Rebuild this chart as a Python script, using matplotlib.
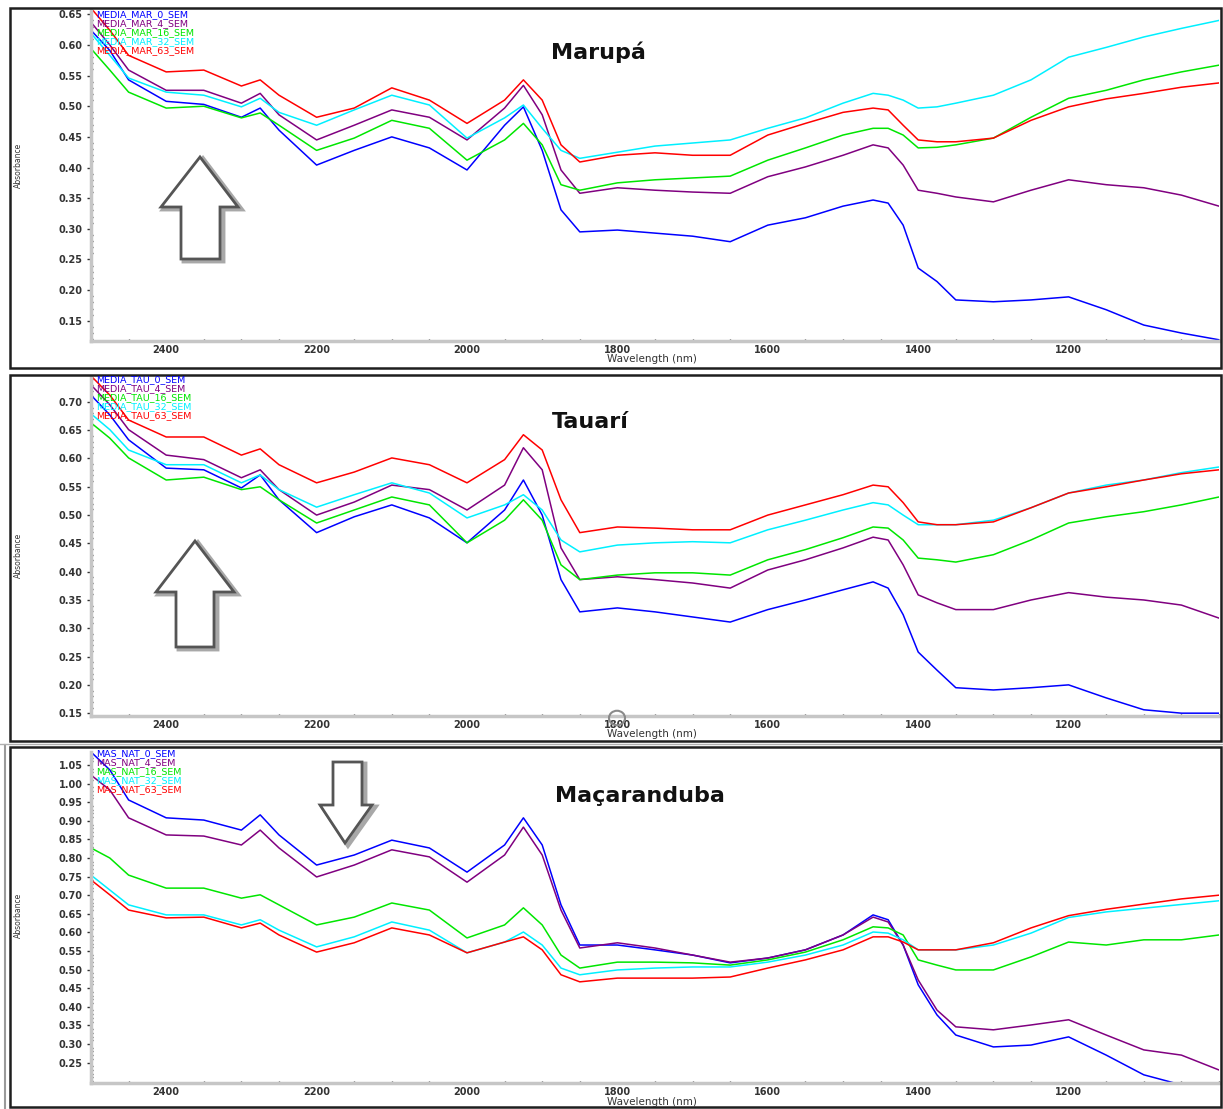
import matplotlib
matplotlib.use('Agg')
import matplotlib.pyplot as plt
from matplotlib.patches import Polygon, Rectangle, Circle
from matplotlib.ticker import MultipleLocator

W, H = 1223, 1109

# wavelength grid (nm) used for every curve
wavelength = [2500, 2475, 2450, 2400, 2350, 2300, 2275, 2250, 2200, 2150, 2100, 2050, 2000,
              1950, 1925, 1900, 1875, 1850, 1800, 1750, 1700, 1650, 1600, 1550, 1500, 1460,
              1440, 1420, 1400, 1375, 1350, 1300, 1250, 1200, 1150, 1100, 1050, 1000]

# Marupá
mar_labels = ['MEDIA_MAR_0_SEM', 'MEDIA_MAR_4_SEM', 'MEDIA_MAR_16_SEM', 'MEDIA_MAR_32_SEM', 'MEDIA_MAR_63_SEM']
mar_0 = [0.624, 0.591, 0.543, 0.508, 0.503, 0.482, 0.497, 0.461, 0.404, 0.428, 0.450, 0.432, 0.396,
         0.469, 0.499, 0.428, 0.331, 0.295, 0.298, 0.293, 0.288, 0.279, 0.306, 0.318, 0.337, 0.347,
         0.342, 0.306, 0.236, 0.214, 0.184, 0.181, 0.184, 0.189, 0.168, 0.143, 0.130, 0.119]
mar_4 = [0.637, 0.600, 0.559, 0.526, 0.526, 0.505, 0.521, 0.486, 0.445, 0.469, 0.494, 0.482, 0.445,
         0.497, 0.534, 0.486, 0.396, 0.358, 0.367, 0.363, 0.360, 0.358, 0.385, 0.401, 0.420, 0.437,
         0.432, 0.404, 0.363, 0.358, 0.352, 0.344, 0.363, 0.380, 0.372, 0.367, 0.355, 0.337]
mar_16 = [0.594, 0.559, 0.523, 0.497, 0.500, 0.481, 0.489, 0.469, 0.428, 0.448, 0.477, 0.464, 0.412,
          0.445, 0.472, 0.437, 0.372, 0.363, 0.375, 0.380, 0.383, 0.386, 0.412, 0.432, 0.453, 0.464,
          0.464, 0.453, 0.432, 0.433, 0.437, 0.448, 0.482, 0.513, 0.526, 0.543, 0.556, 0.567]
mar_32 = [0.619, 0.583, 0.546, 0.523, 0.518, 0.499, 0.513, 0.490, 0.469, 0.494, 0.518, 0.502, 0.448,
          0.481, 0.502, 0.464, 0.428, 0.415, 0.425, 0.435, 0.440, 0.445, 0.464, 0.481, 0.505, 0.521,
          0.518, 0.510, 0.497, 0.499, 0.505, 0.518, 0.543, 0.580, 0.596, 0.613, 0.627, 0.640]
mar_63 = [0.660, 0.624, 0.583, 0.556, 0.559, 0.533, 0.543, 0.518, 0.482, 0.497, 0.530, 0.510, 0.472,
          0.510, 0.543, 0.510, 0.437, 0.409, 0.420, 0.424, 0.420, 0.420, 0.453, 0.472, 0.490, 0.497,
          0.494, 0.469, 0.445, 0.442, 0.442, 0.448, 0.477, 0.499, 0.512, 0.521, 0.531, 0.538]

# Tauarí
tau_labels = ['MEDIA_TAU_0_SEM', 'MEDIA_TAU_4_SEM', 'MEDIA_TAU_16_SEM', 'MEDIA_TAU_32_SEM', 'MEDIA_TAU_63_SEM']
tau_0 = [0.712, 0.677, 0.633, 0.583, 0.580, 0.548, 0.571, 0.527, 0.469, 0.497, 0.518, 0.495, 0.451,
         0.509, 0.562, 0.500, 0.386, 0.329, 0.336, 0.329, 0.320, 0.311, 0.333, 0.350, 0.368, 0.382,
         0.371, 0.324, 0.258, 0.226, 0.195, 0.191, 0.195, 0.200, 0.177, 0.156, 0.150, 0.150]
tau_4 = [0.730, 0.695, 0.651, 0.606, 0.598, 0.566, 0.580, 0.545, 0.500, 0.523, 0.553, 0.545, 0.509,
         0.553, 0.619, 0.580, 0.442, 0.386, 0.391, 0.386, 0.380, 0.371, 0.403, 0.421, 0.442, 0.461,
         0.456, 0.412, 0.359, 0.345, 0.333, 0.333, 0.350, 0.363, 0.355, 0.350, 0.341, 0.318]
tau_16 = [0.663, 0.636, 0.601, 0.562, 0.567, 0.545, 0.550, 0.527, 0.486, 0.509, 0.532, 0.518, 0.451,
          0.491, 0.527, 0.491, 0.412, 0.386, 0.394, 0.398, 0.398, 0.394, 0.421, 0.439, 0.460, 0.479,
          0.477, 0.456, 0.424, 0.421, 0.417, 0.430, 0.456, 0.486, 0.497, 0.506, 0.518, 0.532]
tau_32 = [0.679, 0.651, 0.615, 0.589, 0.589, 0.557, 0.571, 0.545, 0.514, 0.536, 0.557, 0.539, 0.495,
          0.518, 0.536, 0.509, 0.456, 0.435, 0.447, 0.451, 0.453, 0.451, 0.474, 0.491, 0.509, 0.522,
          0.518, 0.500, 0.483, 0.483, 0.483, 0.491, 0.513, 0.539, 0.553, 0.562, 0.575, 0.585]
tau_63 = [0.746, 0.712, 0.668, 0.638, 0.638, 0.606, 0.617, 0.589, 0.557, 0.576, 0.601, 0.589, 0.557,
          0.598, 0.642, 0.615, 0.527, 0.469, 0.479, 0.477, 0.474, 0.474, 0.500, 0.518, 0.536, 0.553,
          0.550, 0.522, 0.488, 0.483, 0.483, 0.488, 0.513, 0.539, 0.550, 0.562, 0.573, 0.580]

# Maçaranduba
mac_labels = ['MAS_NAT_0_SEM', 'MAS_NAT_4_SEM', 'MAS_NAT_16_SEM', 'MAS_NAT_32_SEM', 'MAS_NAT_63_SEM']
mac_0 = [1.085, 1.037, 0.956, 0.908, 0.902, 0.875, 0.916, 0.862, 0.781, 0.808, 0.848, 0.827, 0.762,
         0.835, 0.908, 0.835, 0.674, 0.566, 0.566, 0.553, 0.539, 0.518, 0.531, 0.553, 0.593, 0.647,
         0.634, 0.566, 0.459, 0.378, 0.324, 0.292, 0.297, 0.319, 0.270, 0.217, 0.190, 0.171]
mac_4 = [1.023, 0.983, 0.908, 0.862, 0.859, 0.835, 0.875, 0.827, 0.749, 0.781, 0.822, 0.803, 0.735,
         0.808, 0.883, 0.808, 0.660, 0.558, 0.572, 0.558, 0.539, 0.520, 0.531, 0.553, 0.593, 0.641,
         0.628, 0.566, 0.472, 0.391, 0.346, 0.338, 0.351, 0.365, 0.324, 0.284, 0.270, 0.230]
mac_16 = [0.827, 0.800, 0.754, 0.719, 0.719, 0.692, 0.701, 0.674, 0.620, 0.641, 0.679, 0.660, 0.585,
          0.620, 0.666, 0.620, 0.539, 0.504, 0.520, 0.520, 0.518, 0.512, 0.526, 0.547, 0.580, 0.615,
          0.612, 0.593, 0.526, 0.512, 0.499, 0.499, 0.534, 0.574, 0.566, 0.580, 0.580, 0.593]
mac_32 = [0.754, 0.714, 0.674, 0.647, 0.647, 0.620, 0.634, 0.606, 0.561, 0.588, 0.628, 0.606, 0.545,
          0.574, 0.601, 0.566, 0.504, 0.486, 0.499, 0.504, 0.507, 0.507, 0.520, 0.539, 0.566, 0.601,
          0.598, 0.580, 0.553, 0.553, 0.553, 0.566, 0.598, 0.640, 0.655, 0.665, 0.675, 0.685]
mac_63 = [0.741, 0.701, 0.660, 0.639, 0.641, 0.612, 0.625, 0.593, 0.547, 0.572, 0.612, 0.593, 0.545,
          0.574, 0.588, 0.553, 0.486, 0.467, 0.477, 0.477, 0.477, 0.480, 0.504, 0.526, 0.553, 0.588,
          0.588, 0.574, 0.553, 0.553, 0.553, 0.572, 0.612, 0.645, 0.662, 0.676, 0.690, 0.700]

colors = ['#0000ff', '#800080', '#00e600', '#00f0ff', '#ff0000']


def fx(px):
    return px / W


def fy(py):
    return 1 - py / H


fig = plt.figure(figsize=(W / 100, H / 100), dpi=100)


def panel(top, bottom, ylim, yticks, series, labels, title, title_xy, frame, ylab_y, xlab_y, leg_y0):
    # outer frame of the panel
    fig.add_artist(Rectangle((fx(frame[0]), fy(frame[3])), fx(frame[2]) - fx(frame[0]),
                             fy(frame[1]) - fy(frame[3]), transform=fig.transFigure,
                             fill=False, edgecolor='#1e1e1e', lw=1.8))
    ax = fig.add_axes([fx(91), fy(bottom), fx(1219) - fx(91), fy(top) - fy(bottom)])
    for vals, c in zip(series, colors):
        ax.plot(wavelength, vals, color=c, lw=1.1, solid_joinstyle='round')
    ax.set_xlim(2500, 1000)
    ax.set_ylim(*ylim)
    ax.set_yticks(yticks)
    ax.set_yticklabels([f'{t:.2f}' for t in yticks])
    ax.set_xticks([2400, 2200, 2000, 1800, 1600, 1400, 1200])
    ax.xaxis.set_minor_locator(MultipleLocator(50))
    ax.yaxis.set_minor_locator(MultipleLocator(0.01))
    for s in ['top', 'right']:
        ax.spines[s].set_visible(False)
    for s in ['left', 'bottom']:
        ax.spines[s].set_color('#c6c6c6')
        ax.spines[s].set_linewidth(2.5)
    ax.tick_params(axis='y', which='major', direction='out', length=3, width=1,
                   color='#333333', labelsize=7, labelcolor='#333333', pad=3)
    ax.tick_params(axis='y', which='minor', direction='in', length=1.5, width=1, color='#333333')
    ax.tick_params(axis='x', which='major', direction='in', length=0, labelsize=7,
                   labelcolor='#333333', pad=3)
    ax.tick_params(axis='x', which='minor', direction='in', length=1.5, width=1, color='#333333')
    for lab in ax.get_xticklabels() + ax.get_yticklabels():
        lab.set_fontweight('bold')
    # legend text in the upper left corner
    for i, (lab, c) in enumerate(zip(labels, colors)):
        fig.text(fx(96), fy(leg_y0 + i * 8.8), lab, color=c, fontsize=6.8, va='center', ha='left')
    fig.text(fx(title_xy[0]), fy(title_xy[1]), title, fontsize=16, fontweight='bold',
             ha='center', va='center', color='#111111')
    fig.text(fx(18), fy(ylab_y), 'Absorbance', rotation=90, fontsize=5.5, ha='center',
             va='center', color='#333333')
    fig.text(fx(652), fy(xlab_y), 'Wavelength (nm)', fontsize=7.5, ha='center', va='center',
             color='#333333')
    return ax


def block_arrow(points):
    pts = [(fx(x), fy(y)) for x, y in points]
    shadow = [(fx(x + 3), fy(y + 2)) for x, y in points]
    fig.add_artist(Polygon(shadow, closed=True, transform=fig.transFigure,
                           facecolor='none', edgecolor='#a8a8a8', lw=3.5))
    fig.add_artist(Polygon(pts, closed=True, transform=fig.transFigure,
                           facecolor='white', edgecolor='#555555', lw=2))


panel(10, 341, (0.117, 0.657), [0.15, 0.20, 0.25, 0.30, 0.35, 0.40, 0.45, 0.50, 0.55, 0.60, 0.65],
      [mar_0, mar_4, mar_16, mar_32, mar_63], mar_labels, 'Marupá', (598, 52),
      (10, 8, 1221, 368), 165, 359, 15)
panel(377, 716, (0.145, 0.744), [0.15, 0.20, 0.25, 0.30, 0.35, 0.40, 0.45, 0.50, 0.55, 0.60, 0.65, 0.70],
      [tau_0, tau_4, tau_16, tau_32, tau_63], tau_labels, 'Tauarí', (590, 422),
      (10, 375, 1221, 741), 555, 734, 380)
panel(752, 1083, (0.195, 1.085), [0.25, 0.30, 0.35, 0.40, 0.45, 0.50, 0.55, 0.60, 0.65, 0.70, 0.75,
                                  0.80, 0.85, 0.90, 0.95, 1.00, 1.05],
      [mac_0, mac_4, mac_16, mac_32, mac_63], mac_labels, 'Maçaranduba', (640, 796),
      (10, 747, 1221, 1107), 915, 1102, 754)

# second line on the left of the bottom panel and the window handle
fig.add_artist(plt.Line2D([fx(5), fx(5)], [fy(745), fy(1109)], transform=fig.transFigure,
                          color='#9a9a9a', lw=1.5))
fig.add_artist(plt.Line2D([fx(0), fx(1223)], [fy(744), fy(744)], transform=fig.transFigure,
                          color='#b0b0b0', lw=1))
fig.add_artist(Circle((fx(617), fy(718)), 8 / W, transform=fig.transFigure,
                      fill=False, edgecolor='#8a8a8a', lw=1.5))

block_arrow([(200, 157), (238, 207), (220, 207), (220, 259), (181, 259), (181, 207), (161, 207)])
block_arrow([(195, 541), (234, 592), (214, 592), (214, 647), (176, 647), (176, 592), (156, 592)])
block_arrow([(333, 762), (362, 762), (362, 805), (372, 805), (345, 843), (320, 805), (333, 805)])

fig.savefig('out.png', dpi=100)
